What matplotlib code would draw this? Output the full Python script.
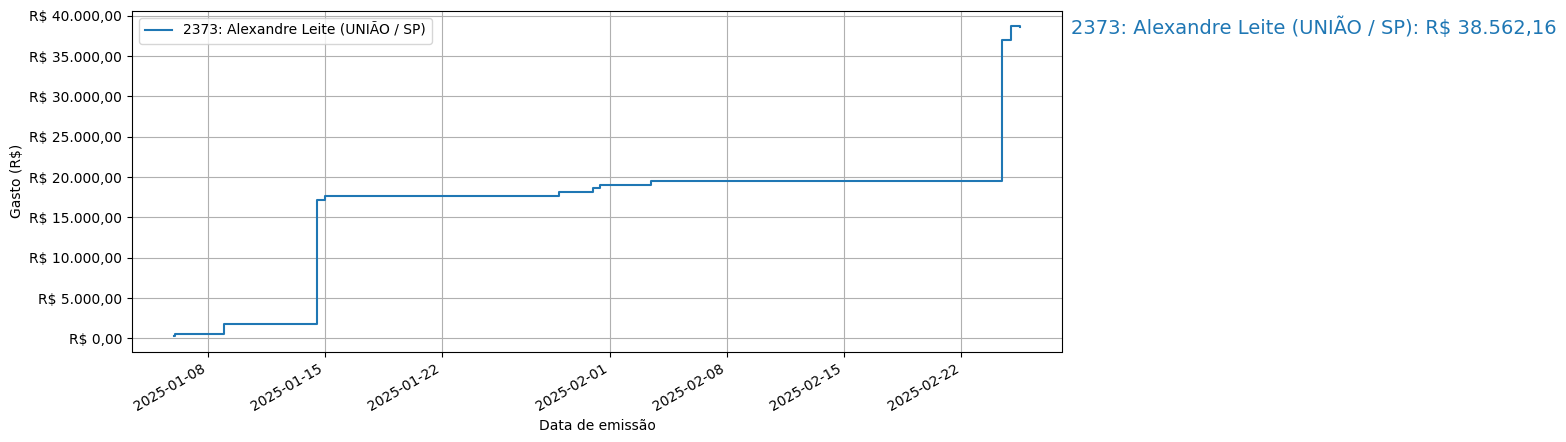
import matplotlib
matplotlib.use("Agg")
import matplotlib.pyplot as plt
import matplotlib.dates as mdates
import matplotlib.transforms as mtransforms
from matplotlib.ticker import FuncFormatter
import pandas as pd

label = "2373: Alexandre Leite (UNIÃO / SP)"
dates = [
    "2025-01-06 00:00", "2025-01-06 01:00", "2025-01-09 00:00", "2025-01-14 12:00",
    "2025-01-15 00:00", "2025-01-29 00:00", "2025-01-31 00:00", "2025-01-31 10:30",
    "2025-02-03 12:00", "2025-02-24 11:00", "2025-02-25 00:00", "2025-02-25 12:00",
]
cumulative = [
    300.0, 570.0, 1775.0, 17160.0,
    17660.0, 18120.0, 18650.0, 19025.0,
    19520.0, 37025.0, 38680.0, 38562.16,
]

x = pd.to_datetime(dates)


def brl(v, pos=None):
    s = f"{v:,.2f}"
    s = s.replace(",", "X").replace(".", ",").replace("X", ".")
    return f"R$ {s}"


fig = plt.figure(figsize=(15.66, 4.42), dpi=100)
ax = fig.add_axes([132 / 1566, 1 - 351.5 / 442, (1062 - 132) / 1566, (351.5 - 11) / 442])
ax.step(x, cumulative, where="post", color="tab:blue", label=label)
ax.yaxis.set_major_formatter(FuncFormatter(brl))
ax.xaxis.set_major_locator(mdates.DayLocator(bymonthday=[1, 8, 15, 22]))
ax.xaxis.set_major_formatter(mdates.DateFormatter("%Y-%m-%d"))
ax.set_yticks([0, 5000, 10000, 15000, 20000, 25000, 30000, 35000, 40000])
ax.grid(True)
ax.set_xlabel("Data de emissão")
ax.set_ylabel("Gasto (R$)")
ax.legend(loc="upper left")
for lbl in ax.get_xticklabels():
    lbl.set_rotation(30)
    lbl.set_ha("right")

trans = mtransforms.blended_transform_factory(ax.transAxes, ax.transData)
ax.text(1.01, cumulative[-1], f"{label}: {brl(cumulative[-1])}", transform=trans,
        color="tab:blue", fontsize=14, va="center", ha="left")

fig.savefig("out.png", dpi=100)
